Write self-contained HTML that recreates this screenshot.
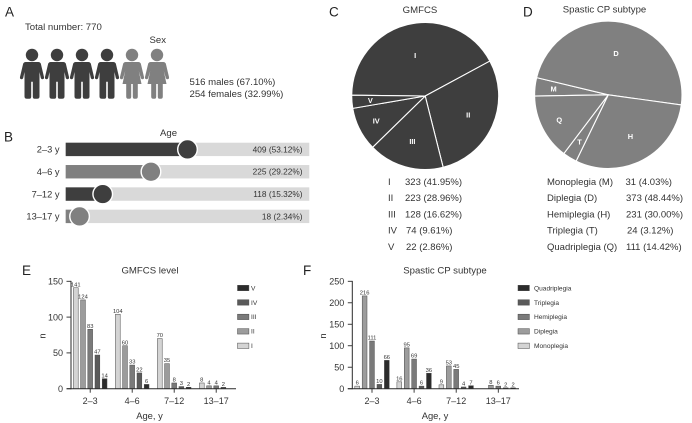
<!DOCTYPE html>
<html lang="en">
<head>
<meta charset="utf-8">
<title>Cerebral palsy cohort summary</title>
<style>
html,body{margin:0;padding:0;background:#fff;}
svg{display:block;}
text{font-family:"Liberation Sans",Arial,sans-serif;fill:#333;}
.letter{font-size:13.5px;fill:#222;}
.t{font-size:9.6px;}
</style>
</head>
<body>
<svg id="fig" xmlns="http://www.w3.org/2000/svg" width="692" height="423" viewBox="0 0 692 423">
  <defs>
    <g id="male-shape">
      <circle cx="0" cy="-24" r="6.2"/>
      <path d="M-6.5,-17 H6.5 Q8,-17 8.8,-15.5 L12,-2 Q12.4,0 10.5,0.3 Q9.4,0.4 8.8,-1 L7.5,-7 V17.5 Q7.5,19.8 5,19.8 H2.6 Q0.8,19.8 0.8,17.5 V2.7 H-0.8 V17.5 Q-0.8,19.8 -2.6,19.8 H-5 Q-7.5,19.8 -7.5,17.5 V-7 L-8.8,-1 Q-9.4,0.4 -10.5,0.3 Q-12.4,0 -12,-2 L-8.8,-15.5 Q-8,-17 -6.5,-17 Z"/>
    </g>
    <g id="female-shape">
      <circle cx="0" cy="-24" r="6.2"/>
      <path d="M-6.5,-17 H6.5 Q8,-17 8.8,-15.5 L12,-2 Q12.4,0 10.5,0.3 Q9.4,0.4 8.8,-1 L6.8,-8 L9.5,5 H5.8 V17.5 Q5.8,19.8 3.8,19.8 H2.4 Q0.8,19.8 0.8,17.5 V5 H-0.8 V17.5 Q-0.8,19.8 -2.4,19.8 H-3.8 Q-5.8,19.8 -5.8,17.5 V5 H-9.5 L-6.8,-8 L-8.8,-1 Q-9.4,0.4 -10.5,0.3 Q-12.4,0 -12,-2 L-8.8,-15.5 Q-8,-17 -6.5,-17 Z"/>
    </g>
  </defs>

  <g>
    <text class="letter" x="5" y="16.7">A</text>
    <text class="t" x="25" y="30">Total number: 770</text>
    <text class="t" x="149.5" y="43">Sex</text>
    <use href="#male-shape" x="32" y="79" fill="#3e3e3e"/>
    <use href="#male-shape" x="57" y="79" fill="#3e3e3e"/>
    <use href="#male-shape" x="82" y="79" fill="#3e3e3e"/>
    <use href="#male-shape" x="107" y="79" fill="#3e3e3e"/>
    <use href="#female-shape" x="132" y="79" fill="#808080"/>
    <use href="#female-shape" x="157" y="79" fill="#808080"/>
    <text class="t" x="189.5" y="85">516 males (67.10%)</text>
    <text class="t" x="189.5" y="97">254 females (32.99%)</text>
  </g>

  <g id="panel-b">
    <text class="letter" x="4" y="141.7">B</text>
    <text class="t" x="168.5" y="136" text-anchor="middle">Age</text>
  </g>

  <g id="panel-c">
    <text class="letter" x="329" y="16.5">C</text>
    <text class="t" x="420" y="13" text-anchor="middle">GMFCS</text>
  </g>

  <g id="panel-d">
    <text class="letter" x="523" y="16.5">D</text>
    <text class="t" x="604.5" y="12.5" text-anchor="middle">Spastic CP subtype</text>
  </g>

  <g id="panel-e">
    <text class="letter" x="22" y="275">E</text>
    <text class="t" x="150" y="273.5" text-anchor="middle">GMFCS level</text>
  </g>

  <g id="panel-f">
    <text class="letter" x="303" y="275">F</text>
    <text class="t" x="445" y="273.5" text-anchor="middle">Spastic CP subtype</text>
  </g>
</svg>

<script>
/* ---------- data ---------- */
var ageLabels = ['2\u20133 y', '4\u20136 y', '7\u201312 y', '13\u201317 y'];
var ageValueText = ['409 (53.12%)', '225 (29.22%)', '118 (15.32%)', '18 (2.34%)'];
var ageTrackPercent = [50, 35, 15.2, 5.7];

var gmfcsNames = ['I', 'II', 'III', 'IV', 'V'];
var gmfcsCounts = [323, 223, 128, 74, 22];
var gmfcsPercentText = ['323 (41.95%)', '223 (28.96%)', '128 (16.62%)', '74 (9.61%)', '22 (2.86%)'];

var subtypeKeys = ['M', 'D', 'H', 'T', 'Q'];
var subtypeRowNames = ['Monoplegia (M)', 'Diplegia (D)', 'Hemiplegia (H)', 'Triplegia (T)', 'Quadriplegia (Q)'];
var subtypeCounts = [31, 373, 231, 24, 111];
var subtypePercentText = ['31 (4.03%)', '373 (48.44%)', '231 (30.00%)', '24 (3.12%)', '111 (14.42%)'];

var barAgeGroups = ['2\u20133', '4\u20136', '7\u201312', '13\u201317'];

var levelYTicks = [0, 50, 100, 150];
var levelSeriesNames = ['I', 'II', 'III', 'IV', 'V'];
var levelI = [141, 104, 70, 8];
var levelII = [124, 60, 35, 4];
var levelIII = [83, 33, 8, 4];
var levelIV = [47, 22, 3, 2];
var levelV = [14, 6, 2, null];

var spasticYTicks = [0, 50, 100, 150, 200, 250];
var spasticSeriesNames = ['Monoplegia', 'Diplegia', 'Hemiplegia', 'Triplegia', 'Quadriplegia'];
var spasticMono = [6, 16, 9, null];
var spasticDi = [216, 95, 53, 8];
var spasticHemi = [111, 69, 45, 6];
var spasticTri = [10, 6, 4, 2];
var spasticQuad = [66, 36, 7, 2];

/* ---------- helpers ---------- */
var NS = 'http://www.w3.org/2000/svg';
function mk(parent, tag, attrs, txt) {
  var el = document.createElementNS(NS, tag);
  for (var k in attrs) el.setAttribute(k, attrs[k]);
  if (txt !== undefined) el.textContent = txt;
  parent.appendChild(el);
  
  return el;
}
function slug(s) { return String(s).toLowerCase().replace(/[^a-z0-9]+/g, '-').replace(/^-|-$/g, ''); }

/* ---------- panel B ---------- */
(function () {
  var g = document.getElementById('panel-b');
  var trackX = 65.7, trackW = 243.6, rowH = 13.4;
  function px(p) { return trackX + trackW * p / 100; }
  ageLabels.forEach(function (lab, i) {
    var top = 142.7 + i * 22.33;
    var cy = top + rowH / 2;
    var col = i % 2 === 0 ? '#3e3e3e' : '#808080';
    var t = mk(g, 'text', {x: 59.5, y: cy + 3.3, 'text-anchor': 'end', 'font-size': 9.3}, lab);
    
    var bg = mk(g, 'rect', {x: trackX, y: top, width: trackW, height: rowH, fill: '#d9d9d9'});
    
    var fill = mk(g, 'rect', {x: trackX, y: top, width: px(ageTrackPercent[i]) - trackX, height: rowH, fill: col});
    
    var c = mk(g, 'circle', {cx: px(ageTrackPercent[i]), cy: cy, r: 9.8, fill: col, stroke: '#fff', 'stroke-width': 1.4});
    
    var v = mk(g, 'text', {x: 302.5, y: cy + 3, 'text-anchor': 'end', 'font-size': 8.3}, ageValueText[i]);
    
  });
})();

/* ---------- pies ---------- */
function drawPie(g, prefix, cx, cy, r, startDeg, color, values, labels) {
  var total = values.reduce(function (a, b) { return a + b; }, 0);
  function pt(deg, rad) {
    var a = deg * Math.PI / 180;
    return [cx + rad * Math.sin(a), cy - rad * Math.cos(a)];
  }
  var ang = startDeg;
  values.forEach(function (v, i) {
    var frac = v / total;
    var sweep = frac * 360;
    var p0 = pt(ang, r), p1 = pt(ang + sweep, r);
    var d = 'M' + cx + ',' + cy + ' L' + p0[0] + ',' + p0[1] + ' A' + r + ',' + r + ' 0 ' + (sweep > 180 ? 1 : 0) + ' 1 ' + p1[0] + ',' + p1[1] + ' Z';
    var s = mk(g, 'path', {d: d, fill: color, stroke: '#fff', 'stroke-width': 1.1, 'stroke-linejoin': 'round'});
    
    ang += sweep;
  });
  ang = startDeg;
  values.forEach(function (v, i) {
    var frac = v / total;
    var sweep = frac * 360;
    var lr = frac > 0.4 ? 42 : (frac > 0.15 ? 47 : 55);
    var p = pt(ang + sweep / 2, lr);
    var t = mk(g, 'text', {x: p[0], y: p[1] + 2.6, 'text-anchor': 'middle', 'font-size': 7.4, 'font-weight': 'bold', style: 'fill:#fff'}, labels[i]);
    
    ang += sweep;
  });
}

(function () {
  var g = document.getElementById('panel-c');
  drawPie(g, 'gmfcs', 425.2, 96, 73.5, -89.4, '#3e3e3e', gmfcsCounts, gmfcsNames);
  gmfcsNames.forEach(function (n, i) {
    var y = 185 + i * 16.2;
    var a = mk(g, 'text', {x: 388, y: y, 'font-size': 9.5}, n);
    
    var b = mk(g, 'text', {x: i > 2 ? 406 : 405, y: y, 'font-size': 9.5}, gmfcsPercentText[i]);
    
  });
})();

(function () {
  var g = document.getElementById('panel-d');
  drawPie(g, 'subtype', 608.3, 94.8, 73.7, -91, '#808080', subtypeCounts, subtypeKeys);
  subtypeRowNames.forEach(function (n, i) {
    var y = 185 + i * 16.2;
    var a = mk(g, 'text', {x: 547, y: y, 'font-size': 9.5}, n);
    
    var b = mk(g, 'text', {x: i === 3 ? 627 : (i === 0 ? 625.5 : 626), y: y, 'font-size': 9.5}, subtypePercentText[i]);
    
  });
})();

/* ---------- bar charts ---------- */
var seriesFills = ['#d4d4d4', '#9c9c9c', '#7a7a7a', '#5a5a5a', '#2c2c2c'];

function drawBars(g, prefix, cfg, series, names, yTicks) {
  var maxV = yTicks[yTicks.length - 1];
  function yScale(v) { return cfg.y0 - v * (cfg.y0 - cfg.yTop) / maxV; }
  function groupX(i) { return cfg.x0 + i * cfg.step; }
  function barX(i, j) { return groupX(i) + (j - 2) * cfg.pitch; }
  var ink = '#2a2a2a';

  series.forEach(function (vals, j) {
    vals.forEach(function (v, i) {
      if (v === null) return;
      var b = mk(g, 'rect', {x: barX(i, j) - 2.4, y: yScale(v), width: 4.8, height: cfg.y0 - yScale(v), fill: seriesFills[j], stroke: '#4a4a4a', 'stroke-width': 0.5});
      
      var t = mk(g, 'text', {x: barX(i, j), y: yScale(v) - 1.4, 'text-anchor': 'middle', 'font-size': 5.8}, v);
      
    });
  });

  var ya = mk(g, 'line', {x1: cfg.axisX, x2: cfg.axisX, y1: cfg.yTop - 0.4, y2: cfg.y0 + 0.5, stroke: ink, 'stroke-width': 1});
  
  var xa = mk(g, 'line', {x1: cfg.axisX - 4.5, x2: cfg.xEnd, y1: cfg.y0, y2: cfg.y0, stroke: ink, 'stroke-width': 1});
  

  yTicks.forEach(function (v) {
    var l = mk(g, 'line', {x1: cfg.axisX - 4.5, x2: cfg.axisX, y1: yScale(v), y2: yScale(v), stroke: ink, 'stroke-width': 0.9});
    
    var t = mk(g, 'text', {x: cfg.axisX - 8, y: yScale(v) + 3.3, 'text-anchor': 'end', 'font-size': 9}, v);
    
  });
  barAgeGroups.forEach(function (lab, i) {
    var l = mk(g, 'line', {x1: groupX(i), x2: groupX(i), y1: cfg.y0, y2: cfg.y0 + 4, stroke: ink, 'stroke-width': 0.9});
    
    var t = mk(g, 'text', {x: groupX(i), y: 404, 'text-anchor': 'middle', 'font-size': 9}, lab);
    
  });

  var xt = mk(g, 'text', {x: cfg.xTitleX, y: 419, 'text-anchor': 'middle', 'font-size': 9.4}, 'Age, y');
  
  var yt = mk(g, 'text', {x: cfg.nX, y: 336, 'text-anchor': 'middle', 'font-size': 9.4, transform: 'rotate(-90 ' + cfg.nX + ' 336)'}, 'n');
  

  names.forEach(function (n, j) {
    var row = names.length - 1 - j;
    var y = 288 + row * 14.45;
    var s = mk(g, 'rect', {x: cfg.legX, y: y - 2.7, width: 11.4, height: 5.4, fill: seriesFills[j], stroke: '#4a4a4a', 'stroke-width': 0.5});
    
    var t = mk(g, 'text', {x: cfg.legTextX, y: y + 2.3, 'font-size': 6.6}, n);
    
  });
}

drawBars(document.getElementById('panel-e'), 'gmfcs-bars',
  {y0: 388.7, yTop: 281.3, x0: 90.2, step: 42, pitch: 7.2, axisX: 71, xEnd: 236, legX: 237.5, legTextX: 251, xTitleX: 149.5, nX: 45.5},
  [levelI, levelII, levelIII, levelIV, levelV], levelSeriesNames, levelYTicks);

drawBars(document.getElementById('panel-f'), 'subtype-bars',
  {y0: 388.7, yTop: 281.3, x0: 372, step: 42.1, pitch: 7.4, axisX: 352.3, xEnd: 519, legX: 518, legTextX: 534, xTitleX: 435, nX: 326},
  [spasticMono, spasticDi, spasticHemi, spasticTri, spasticQuad], spasticSeriesNames, spasticYTicks);
</script>
</body>
</html>
